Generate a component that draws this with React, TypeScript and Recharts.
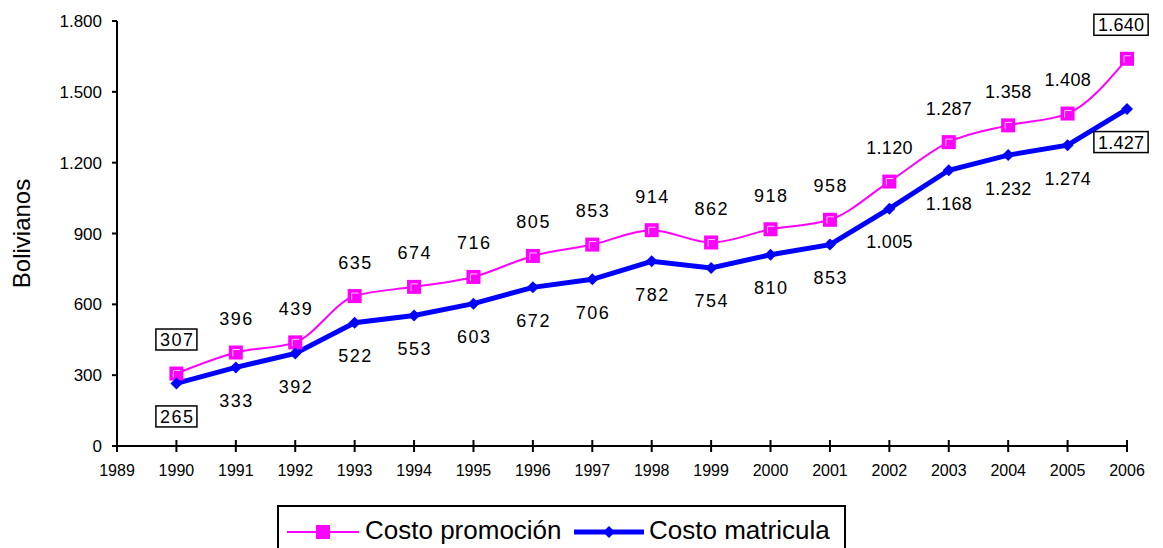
import React from "react";
import { LineChart, Line, XAxis, YAxis, LabelList } from "recharts";

const years = [1990, 1991, 1992, 1993, 1994, 1995, 1996, 1997, 1998, 1999, 2000, 2001, 2002, 2003, 2004, 2005, 2006];
const promocion = [307, 396, 439, 635, 674, 716, 805, 853, 914, 862, 918, 958, 1120, 1287, 1358, 1408, 1640];
const matricula = [265, 333, 392, 522, 553, 603, 672, 706, 782, 754, 810, 853, 1005, 1168, 1232, 1274, 1427];
const xTicks = [1989, 1990, 1991, 1992, 1993, 1994, 1995, 1996, 1997, 1998, 1999, 2000, 2001, 2002, 2003, 2004, 2005, 2006];
const yTicks = [0, 300, 600, 900, 1200, 1500, 1800];
const boxedIdx = [0, 16];

const data = years.map((y, i) => ({ year: y, promocion: promocion[i], matricula: matricula[i] }));

const PINK = "#FF00FF";
const BLUE = "#0000FF";
const FONT = "'Liberation Sans', Arial, sans-serif";

const fmt = (v: number) => {
  const s = String(Math.round(v));
  return s.replace(/\B(?=(\d{3})+(?!\d))/g, ".");
};

const textWidth = (s: string, size: number) => {
  let w = 0;
  for (const c of s) w += c === "." ? 0.278 : 0.556;
  return w * size;
};

const makeLabel = (offset: number) => (props: any) => {
  const { x, y, value, index } = props;
  const s = fmt(value);
  const size = 18;
  const ls = s.length === 3 ? 1.5 : 0.3;
  const dx = index === years.length - 1 ? -6 : 0;
  const cx = x + dx;
  const cy = y + offset;
  const boxed = boxedIdx.includes(index);
  const w = textWidth(s, size) + ls * (s.length - 1);
  return (
    <g>
      {boxed && (
        <rect x={cx - w / 2 - 4} y={cy - 10.5} width={w + 8} height={21} fill="#fff" stroke="#000" strokeWidth={1.5} />
      )}
      <text x={cx - w / 2} y={cy + 6.5} fontSize={size} letterSpacing={ls} fontFamily={FONT} fill="#000">
        {s}
      </text>
    </g>
  );
};

const SquareDot = (props: any) => {
  const { cx, cy, index } = props;
  if (cx == null || cy == null) return null;
  return (
    <g key={"sq" + index}>
      <rect x={cx - 7} y={cy - 7} width={14} height={14} fill={PINK} />
      <path d={`M${cx - 3},${cy + 4} L${cx - 3},${cy - 3} L${cx + 4},${cy - 3}`} stroke="#ffc8ff" strokeWidth={1} fill="none" />
    </g>
  );
};

const DiamondDot = (props: any) => {
  const { cx, cy, index } = props;
  if (cx == null || cy == null) return null;
  return <path key={"dm" + index} d={`M${cx},${cy - 6} L${cx + 6},${cy} L${cx},${cy + 6} L${cx - 6},${cy} Z`} fill={BLUE} />;
};

const XTick = (props: any) => {
  const { x, y, payload } = props;
  const axisY = y - 8;
  return (
    <g>
      <line x1={x} x2={x} y1={axisY - 6} y2={axisY + 6} stroke="#000" strokeWidth={2} />
      <text x={x} y={y + 22} textAnchor="middle" fontSize={16} fontFamily={FONT} fill="#000">
        {payload.value}
      </text>
    </g>
  );
};

const YTick = (props: any) => {
  const { x, y, payload } = props;
  return (
    <text x={x} y={y + 6} textAnchor="end" fontSize={17} fontFamily={FONT} fill="#000">
      {fmt(payload.value)}
    </text>
  );
};

const YLabel = (props: any) => {
  const vb = props.viewBox || {};
  const cy = (vb.y ?? 21) + (vb.height ?? 425) / 2;
  return (
    <text
      x={0}
      y={0}
      transform={`translate(30, ${cy}) rotate(-90)`}
      textAnchor="middle"
      fontSize={24}
      fontFamily={FONT}
      fill="#000"
    >
      Bolivianos
    </text>
  );
};

export default function App() {
  return (
    <div style={{ position: "absolute", left: 0, top: 0, width: 1163, height: 548, background: "#fff", overflow: "hidden" }}>
      <LineChart width={1163} height={548} data={data} margin={{ top: 21, right: 36, left: 0, bottom: 72 }}>
        <XAxis
          dataKey="year"
          type="number"
          domain={[1989, 2006]}
          ticks={xTicks}
          interval={0}
          height={30}
          axisLine={{ stroke: "#000", strokeWidth: 2 }}
          tickLine={false}
          tickSize={6}
          tickMargin={2}
          tick={<XTick />}
        />
        <YAxis
          type="number"
          domain={[0, 1800]}
          ticks={yTicks}
          width={117}
          axisLine={{ stroke: "#000", strokeWidth: 2 }}
          tickLine={{ stroke: "#000", strokeWidth: 2 }}
          tickSize={5}
          tickMargin={10}
          tick={<YTick />}
          label={<YLabel />}
        />
        <Line
          type="monotone"
          dataKey="promocion"
          stroke={PINK}
          strokeWidth={2}
          dot={SquareDot}
          activeDot={false}
          isAnimationActive={false}
        >
          <LabelList dataKey="promocion" content={makeLabel(-34)} />
        </Line>
        <Line
          type="linear"
          dataKey="matricula"
          stroke={BLUE}
          strokeWidth={5}
          dot={DiamondDot}
          activeDot={false}
          isAnimationActive={false}
        >
          <LabelList dataKey="matricula" content={makeLabel(33)} />
        </Line>
      </LineChart>
      <div
        style={{
          position: "absolute",
          left: 277,
          top: 505,
          width: 565,
          height: 60,
          border: "2px solid #000",
          background: "#fff",
          fontFamily: FONT,
          fontSize: 26,
          color: "#000",
        }}
      >
        <svg style={{ position: "absolute", left: 8, top: 10 }} width={72} height={30}>
          <line x1={0} x2={72} y1={15} y2={15} stroke={PINK} strokeWidth={2} />
          <rect x={29} y={8} width={14} height={14} fill={PINK} />
        </svg>
        <span style={{ position: "absolute", left: 86, top: 8, whiteSpace: "nowrap", lineHeight: "30px" }}>Costo promoción</span>
        <svg style={{ position: "absolute", left: 295, top: 10 }} width={72} height={30}>
          <line x1={0} x2={70} y1={15} y2={15} stroke={BLUE} strokeWidth={5} />
          <path d="M35,9 L41,15 L35,21 L29,15 Z" fill={BLUE} />
        </svg>
        <span style={{ position: "absolute", left: 370, top: 8, whiteSpace: "nowrap", lineHeight: "30px" }}>Costo matricula</span>
      </div>
    </div>
  );
}
